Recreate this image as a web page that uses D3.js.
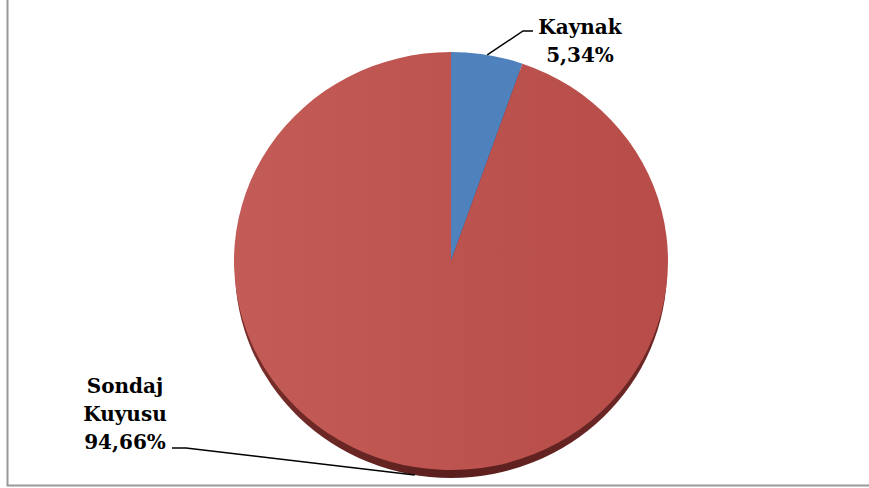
<!DOCTYPE html>
<html>
<head>
<meta charset="utf-8">
<script src="https://cdn.jsdelivr.net/npm/d3@7"></script>
<style>
  body { margin: 0; background: #fff; }
  text { font-family: "DejaVu Serif", serif; font-weight: bold; font-size: 20px; fill: #000; }
</style>
</head>
<body>
<svg id="chart" width="869" height="488"></svg>
<script>
var categories = ["Kaynak", "Sondaj Kuyusu"];
var values = [5.34, 94.66];
var valueLabels = ["5,34%", "94,66%"];
var colors = ["#4f81bd", "#c0504d"];

var svg = d3.select("#chart");
var cx = 451, cy = 261, rx = 217, ry = 209, depth = 8;

// frame (only left and bottom edges visible)
svg.append("path")
  .attr("d", "M7.5,0 V485.5 H869")
  .attr("fill", "none")
  .attr("stroke", "#999")
  .attr("stroke-width", 2);

var defs = svg.append("defs");
var grad = defs.append("linearGradient").attr("id", "redgrad")
  .attr("x1", "0").attr("x2", "1").attr("y1", "0").attr("y2", "0");
grad.append("stop").attr("offset", "0%").attr("stop-color", "#c35b57");
grad.append("stop").attr("offset", "100%").attr("stop-color", "#b74c48");
var sgrad = defs.append("linearGradient").attr("id", "sidegrad")
  .attr("x1", "0").attr("x2", "1").attr("y1", "0").attr("y2", "0");
sgrad.append("stop").attr("offset", "0%").attr("stop-color", "#7a2e2b");
sgrad.append("stop").attr("offset", "50%").attr("stop-color", "#5a1f1d");
sgrad.append("stop").attr("offset", "100%").attr("stop-color", "#6e2826");

var pie = d3.pie().sort(null).value(function(d) { return d; });
var arcs = pie(values);
var arc = d3.arc().innerRadius(0).outerRadius(rx);

// side wall
svg.append("ellipse")
  .attr("cx", cx).attr("cy", cy + depth)
  .attr("rx", rx - 1).attr("ry", ry)
  .attr("fill", "url(#sidegrad)");

var g = svg.append("g")
  .attr("transform", "translate(" + cx + "," + cy + ") scale(1," + (ry / rx) + ")");

g.selectAll("path")
  .data(arcs)
  .enter().append("path")
  .attr("d", arc)
  .attr("fill", function(d, i) { return i == 1 ? "url(#redgrad)" : colors[i]; });

function edgePoint(d, extra) {
  var a = (d.startAngle + d.endAngle) / 2;
  return [cx + rx * Math.sin(a), cy - ry * Math.cos(a) + extra];
}

// Kaynak label
var p0 = edgePoint(arcs[0], 0);
svg.append("polyline")
  .attr("points", [p0, [523, 31], [533, 31]].map(function(p) { return p.join(","); }).join(" "))
  .attr("fill", "none").attr("stroke", "#000").attr("stroke-width", 1.5);
var t0 = svg.append("text").attr("text-anchor", "middle");
t0.append("tspan").attr("x", 580).attr("y", 34).text(categories[0]);
t0.append("tspan").attr("x", 580).attr("y", 62).text(valueLabels[0]);

// Sondaj Kuyusu label
var p1 = edgePoint(arcs[1], depth);
svg.append("polyline")
  .attr("points", [[172, 448], [186, 448], p1].map(function(p) { return p.join(","); }).join(" "))
  .attr("fill", "none").attr("stroke", "#000").attr("stroke-width", 1.5);
var words = categories[1].split(" ");
var t1 = svg.append("text").attr("text-anchor", "middle");
t1.append("tspan").attr("x", 125).attr("y", 393).text(words[0]);
t1.append("tspan").attr("x", 125).attr("y", 421).text(words[1]);
t1.append("tspan").attr("x", 125).attr("y", 449).text(valueLabels[1]);
</script>
</body>
</html>
